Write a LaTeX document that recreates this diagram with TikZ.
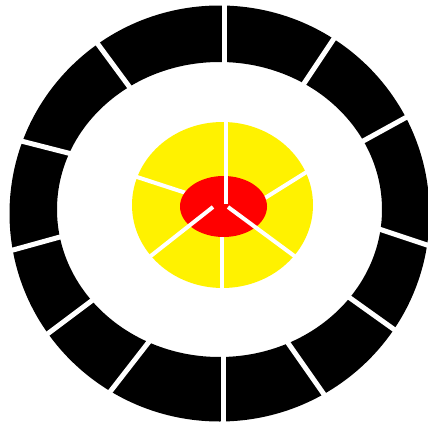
\documentclass[tikz,border=0pt]{standalone}
\usetikzlibrary{calc}
\begin{document}
\begin{tikzpicture}[
  x=0.05cm, y=-0.05cm,
  ring/.style={fill=black, even odd rule},
  disc/.style={fill=yellow},
  bull/.style={fill=red},
  gap/.style={draw=white, line width=0.25cm},
  thingap/.style={draw=white, line width=0.2cm},
]
\useasboundingbox (0,0) rectangle (428,423);
\clip (0,0) rectangle (428,423);

% ---- outer black ring, twelve pieces ----
\fill[ring] (219.5,213.5) ellipse [x radius=210, y radius=208]
            (219.5,209.5) ellipse [x radius=162.5, y radius=147.5];
\foreach \ax/\ay/\bx/\by in {224/5/224/62, 100/47/128/85, 25/142/68/153,
    13/250/60/237, 50/332/90/302, 113/388/148/343, 223/355/223/422,
    288/343/323/393, 350/298/392/328, 382/230/427/245, 365/140/405/118,
    305/82/333/40}
  \draw[gap] ($(\ax,\ay)!-0.4!(\bx,\by)$) -- ($(\bx,\by)!-0.4!(\ax,\ay)$);

% ---- yellow disc, six pieces ----
\fill[disc] (222.5,205) ellipse [x radius=90.5, y radius=83];
\foreach \ax/\ay/\bx/\by in {137/177/183/192, 305/173/265/198, 222/237/222/288}
  \draw[thingap] ($(\ax,\ay)!-0.3!(\bx,\by)$) -- ($(\bx,\by)!-0.3!(\ax,\ay)$);

% ---- red centre, three pieces ----
\fill[bull] (223.5,206.5) ellipse [x radius=43.5, y radius=30.5];
\foreach \ax/\ay/\bx/\by in {226/204/226/122, 228/207/293/255, 213/207/152/255}
  \draw[thingap] (\ax,\ay) -- ($(\ax,\ay)!1.1!(\bx,\by)$);
\end{tikzpicture}
\end{document}
